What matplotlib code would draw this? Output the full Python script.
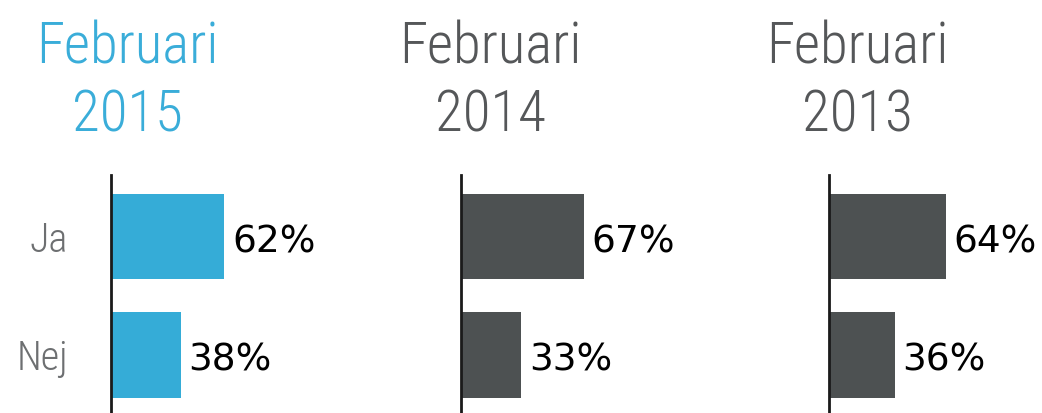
import matplotlib
matplotlib.use("Agg")
import matplotlib.pyplot as plt

years = ["2015", "2014", "2013"]
categories = ["Ja", "Nej"]
ja_values = [62, 67, 64]
nej_values = [38, 33, 36]

blue = "#35acd7"
dark = "#4d5152"
W, H = 1042, 413

fig = plt.figure(figsize=(W / 100, H / 100), dpi=100)
fig.patch.set_facecolor("white")

cond = "Roboto Condensed"
spine_x = [111, 461, 829]
title_x = [127, 490, 857]

for i, year in enumerate(years):
    color = blue if i == 0 else dark
    title_color = "#3aadd9" if i == 0 else "#555759"
    ax = fig.add_axes([spine_x[i] / W, 0, 183 / W, 238 / H])
    vals = [ja_values[i], nej_values[i]]
    bars = ax.barh(range(len(categories)), vals, height=0.72, color=color)
    ax.set_xlim(0, 100)
    ax.set_ylim(1.49, -0.52)
    for s in ["top", "right", "bottom"]:
        ax.spines[s].set_visible(False)
    ax.spines["left"].set_linewidth(2)
    ax.spines["left"].set_color("#1a1a1a")
    ax.set_xticks([])
    ax.set_yticks(range(len(categories)))
    if i == 0:
        ax.set_yticklabels(categories, fontsize=29, color="#6d6f71",
                           family=cond, fontweight="light")
        ax.tick_params(axis="y", length=0, pad=31)
        for lbl in ax.get_yticklabels():
            lbl.set_va("center_baseline")
    else:
        ax.set_yticks([])
    for b, v in zip(bars, vals):
        ax.annotate(f"{v}%", (b.get_width(), b.get_y() + b.get_height() / 2),
                    xytext=(5.5, -4), textcoords="offset points",
                    ha="left", va="center", fontsize=27, family="DejaVu Sans",
                    color="black")
    fig.text(title_x[i] / W, 1 - 63 / H, "Februari", ha="center", va="baseline",
             fontsize=41, color=title_color, family=cond, fontweight="light")
    fig.text(title_x[i] / W, 1 - 132 / H, year, ha="center", va="baseline",
             fontsize=41, color=title_color, family=cond, fontweight="light")

fig.savefig("out.png", dpi=100)
